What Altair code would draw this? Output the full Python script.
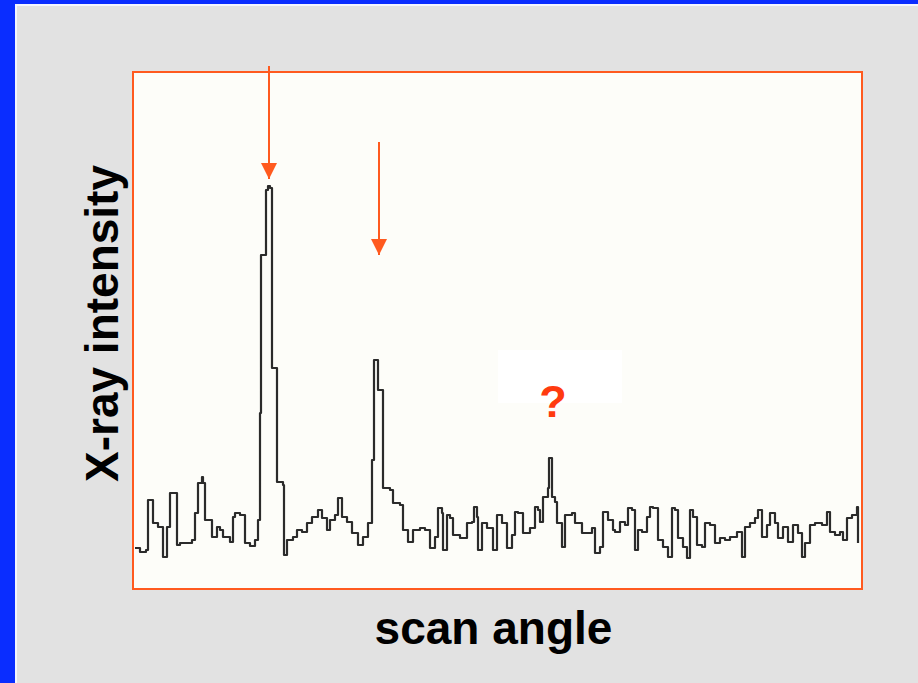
import altair as alt
import pandas as pd

# Trace (angle in plot units, intensity in plot units)
angle = [2, 7, 13, 15, 19, 20, 25, 30, 34, 37, 42, 44, 47, 57, 59, 62, 65, 69, 70, 72,
         77, 79, 84, 87, 90, 97, 100, 102, 107, 112, 117, 122, 125, 127, 128, 132, 133, 135, 137, 139,
         144, 144, 150, 151, 154, 160, 164, 169, 174, 179, 185, 189, 194, 197, 202, 205, 209, 214, 219, 225,
         230, 235, 239, 239, 241, 241, 245, 245, 250, 250, 257, 260, 267, 270, 275, 280, 287, 292, 297, 302,
         305, 309, 310, 314, 317, 320, 327, 334, 339, 341, 344, 345, 349, 354, 360, 364, 369, 374, 379, 382,
         385, 390, 397, 402, 405, 407, 410, 415, 416, 418, 419, 422, 424, 429, 432, 439, 442, 449, 454, 459,
         462, 467, 470, 475, 480, 482, 487, 492, 495, 499, 502, 505, 509, 514, 517, 520, 525, 530, 535, 539,
         542, 545, 550, 554, 557, 560, 564, 569, 572, 577, 582, 587, 592, 597, 604, 609, 612, 617, 622, 625,
         629, 634, 637, 642, 645, 650, 655, 660, 665, 669, 672, 677, 682, 689, 694, 697, 702, 707, 710, 714,
         719, 724, 725]
intensity = [41, 37, 39, 89, 89, 66, 62, 32, 62, 96, 96, 44, 46, 46, 49, 76, 106, 112, 106, 69,
             69, 52, 62, 59, 52, 47, 72, 76, 74, 46, 43, 49, 69, 176, 334, 334, 399, 403, 401, 221,
             219, 107, 104, 34, 49, 52, 59, 57, 66, 72, 79, 71, 59, 69, 74, 91, 72, 67, 56, 44,
             52, 66, 79, 129, 131, 229, 229, 199, 196, 101, 99, 86, 84, 59, 47, 59, 61, 59, 41, 52,
             81, 76, 39, 74, 71, 54, 51, 66, 67, 82, 72, 39, 66, 61, 39, 74, 66, 41, 54, 77,
             76, 56, 61, 82, 79, 67, 92, 101, 131, 131, 92, 87, 66, 42, 74, 76, 66, 56, 56, 61,
             36, 42, 77, 69, 59, 57, 67, 64, 81, 79, 39, 59, 57, 72, 82, 81, 49, 42, 32, 81,
             79, 51, 42, 31, 79, 72, 44, 42, 66, 64, 46, 51, 49, 52, 57, 32, 62, 66, 71, 79,
             52, 64, 76, 66, 51, 62, 47, 64, 56, 32, 46, 64, 66, 64, 77, 57, 54, 57, 49, 71,
             74, 82, 46]

# Arrows (x position, top of shaft, tip) and the question mark
arrow_x = [136, 246]
arrow_top = [523, 447]
arrow_tip = [410, 334]
question_x = [420]
question_y = [172]
note_box = {"x": [365], "x2": [489], "y": [186], "y2": [239]}

X_DOMAIN = [0, 729]
Y_DOMAIN = [0, 517]
ORANGE = "#ff5a1f"

xs = alt.Scale(domain=X_DOMAIN, nice=False, zero=False)
ys = alt.Scale(domain=Y_DOMAIN, nice=False, zero=False)

trace = pd.DataFrame({"angle": angle, "intensity": intensity, "order": range(len(angle))})
arrows = pd.DataFrame({"x": arrow_x, "top": arrow_top, "tip": arrow_tip})
qm = pd.DataFrame({"x": question_x, "y": question_y, "t": ["?"]})
box = pd.DataFrame(note_box)
one = pd.DataFrame({"a": [0]})

# decorations: blue slide edge
blue_left = alt.Chart(one).mark_rect(color="#0a2dff").encode(
    x=alt.value(-133), x2=alt.value(-118), y=alt.value(-72), y2=alt.value(611))
blue_top = alt.Chart(one).mark_rect(color="#0a2dff").encode(
    x=alt.value(-133), x2=alt.value(785), y=alt.value(-72), y2=alt.value(-68))
white_left = alt.Chart(one).mark_rect(color="#f4f6ff").encode(
    x=alt.value(-118), x2=alt.value(-116), y=alt.value(-68), y2=alt.value(611))
white_top = alt.Chart(one).mark_rect(color="#f4f6ff").encode(
    x=alt.value(-118), x2=alt.value(785), y=alt.value(-68), y2=alt.value(-66))

note = alt.Chart(box).mark_rect(color="white").encode(
    x=alt.X("x:Q", scale=xs), x2="x2:Q", y=alt.Y("y:Q", scale=ys), y2="y2:Q")

line = alt.Chart(trace).mark_line(
    color="#2b2b2b", strokeWidth=2.2, strokeJoin="round", interpolate="step-after"
).encode(
    x=alt.X("angle:Q", scale=xs,
            axis=alt.Axis(title="scan angle", labels=False, ticks=False, domain=False, grid=False,
                          titleFont="Liberation Sans", titleFontSize=46, titleFontWeight="bold",
                          titleColor="black", titleX=360, titleY=54, titleAlign="center",
                          titleBaseline="alphabetic")),
    y=alt.Y("intensity:Q", scale=ys,
            axis=alt.Axis(title="X-ray intensity", labels=False, ticks=False, domain=False, grid=False,
                          titleFont="Liberation Sans", titleFontSize=46, titleFontWeight="bold",
                          titleColor="black", titleX=-16, titleY=251, titleAngle=-90,
                          titleAlign="center", titleBaseline="alphabetic")),
    order="order:Q",
)

shaft = alt.Chart(arrows).mark_rule(color=ORANGE, strokeWidth=2).encode(
    x=alt.X("x:Q", scale=xs), y=alt.Y("top:Q", scale=ys), y2="tip:Q")
head = alt.Chart(arrows).mark_point(
    shape="M -1 -1 L 1 -1 L 0 1 Z", filled=True, color=ORANGE, opacity=1, size=256, yOffset=-8
).encode(x=alt.X("x:Q", scale=xs), y=alt.Y("tip:Q", scale=ys))

question = alt.Chart(qm).mark_text(
    font="Liberation Sans", fontSize=45, fontWeight="bold", color="#ff3b0f",
    align="center", baseline="alphabetic"
).encode(x=alt.X("x:Q", scale=xs), y=alt.Y("y:Q", scale=ys), text="t:N")

chart = alt.layer(
    blue_left, blue_top, white_left, white_top, note, line, shaft, head, question
).properties(
    width=729, height=517,
    autosize=alt.AutoSizeParams(type="none"),
    padding={"left": 133, "top": 72, "right": 56, "bottom": 94},
    background="#e2e2e2",
).configure_view(
    fill="#fdfdf9", stroke=ORANGE, strokeWidth=2
)

chart.save("out.html", embed_options={"renderer": "svg", "actions": False})
